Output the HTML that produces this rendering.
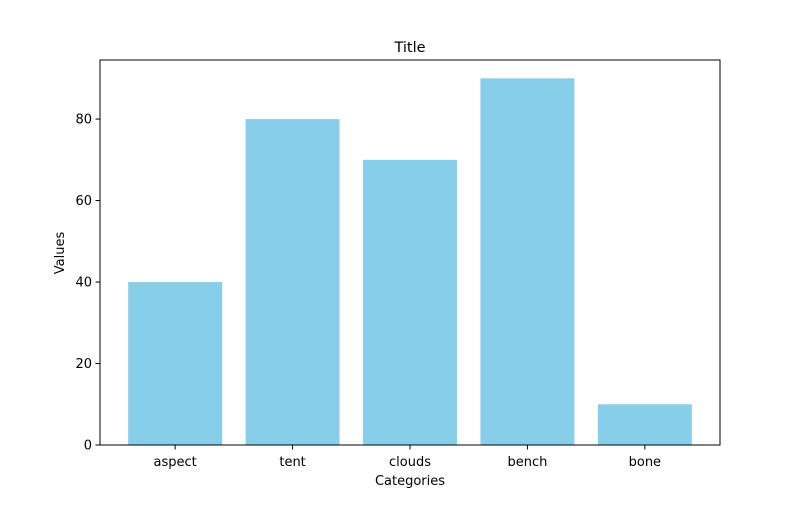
<!DOCTYPE html>
<html>
<head>
<meta charset="utf-8">
<style>
  html, body { margin: 0; padding: 0; background: #fff; }
  svg text { font-family: "DejaVu Sans", "Liberation Sans", sans-serif; fill: #000; }
</style>
</head>
<body>
<svg id="chart" width="800" height="500" xmlns="http://www.w3.org/2000/svg">
  <rect x="0" y="0" width="800" height="500" fill="#fff"/>
  <g id="bars"></g>
  <g id="xticks"></g>
  <g id="yticks"></g>
  <rect x="100" y="60" width="620" height="385" fill="none" stroke="#000" stroke-width="1"/>
  <text x="410" y="52" font-size="14.5" text-anchor="middle">Title</text>
  <text x="410" y="485" font-size="13" text-anchor="middle">Categories</text>
  <text x="64" y="253" font-size="13" text-anchor="middle" transform="rotate(-90 64 253)">Values</text>
</svg>
<script>
const categories = ["aspect", "tent", "clouds", "bench", "bone"];
const values = [40, 80, 70, 90, 10];
const yTickValues = [0, 20, 40, 60, 80];

const L = 100, R = 720, T = 60, B = 445;
const yMax = Math.max(...values) * 1.05;
const xMin = -0.64, xMax = categories.length - 1 + 0.64;
const ns = "http://www.w3.org/2000/svg";
function xs(v) { return L + (v - xMin) / (xMax - xMin) * (R - L); }
function ys(v) { return B - v / yMax * (B - T); }

const bars = document.getElementById("bars");
const xt = document.getElementById("xticks");
const yt = document.getElementById("yticks");

categories.forEach((c, i) => {
  const r = document.createElementNS(ns, "rect");
  const x0 = xs(i - 0.4), x1 = xs(i + 0.4);
  r.setAttribute("x", x0);
  r.setAttribute("width", x1 - x0);
  r.setAttribute("y", ys(values[i]));
  r.setAttribute("height", B - ys(values[i]));
  r.setAttribute("fill", "#87ceeb");
  
  
  bars.appendChild(r);

  const tk = document.createElementNS(ns, "line");
  tk.setAttribute("x1", xs(i)); tk.setAttribute("x2", xs(i));
  tk.setAttribute("y1", B); tk.setAttribute("y2", B + 4.5);
  tk.setAttribute("stroke", "#000");
  
  
  xt.appendChild(tk);

  const t = document.createElementNS(ns, "text");
  t.setAttribute("x", xs(i)); t.setAttribute("y", B + 21);
  t.setAttribute("font-size", "13"); t.setAttribute("text-anchor", "middle");
  t.textContent = c;
  
  
  xt.appendChild(t);
});

yTickValues.forEach(v => {
  const tk = document.createElementNS(ns, "line");
  tk.setAttribute("x1", L - 4.5); tk.setAttribute("x2", L);
  tk.setAttribute("y1", ys(v)); tk.setAttribute("y2", ys(v));
  tk.setAttribute("stroke", "#000");
  
  
  yt.appendChild(tk);

  const t = document.createElementNS(ns, "text");
  t.setAttribute("x", L - 8); t.setAttribute("y", ys(v) + 4.5);
  t.setAttribute("font-size", "13"); t.setAttribute("text-anchor", "end");
  t.textContent = v;
  
  
  yt.appendChild(t);
});
</script>
</body>
</html>
